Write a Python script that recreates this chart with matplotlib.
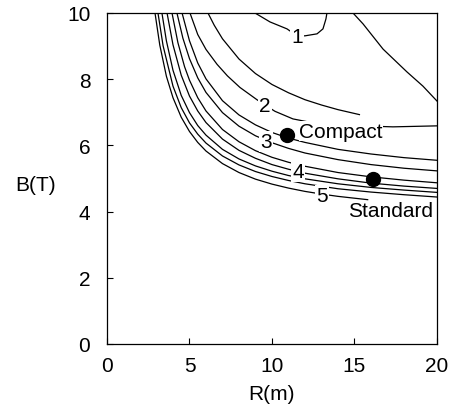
import matplotlib
matplotlib.use("Agg")
import matplotlib.pyplot as plt

plt.rcParams['font.family'] = ['Liberation Sans', 'DejaVu Sans']

# contour lines, (R in m, B in T)
c1_R = [8.97, 9.88, 10.91, 11.52, 12.0, 12.73, 13.09, 13.27, 13.33]
c1_B = [10.0, 9.73, 9.52, 9.31, 9.31, 9.37, 9.52, 9.82, 10.0]

diag_R = [14.91, 15.52, 16.73, 18.18, 19.15, 20.0]
diag_B = [10.0, 9.67, 8.91, 8.22, 7.79, 7.34]

cA_R = [6.12, 6.5, 7, 8, 9, 10, 11, 12, 13, 14, 15.3]
cA_B = [10.0, 9.63, 9.22, 8.61, 8.17, 7.84, 7.59, 7.38, 7.22, 7.08, 6.93]

c2_R = [5.03, 5.5, 6.0, 6.67, 7.3, 8.06, 9.09, 9.58, 10.18, 11.27, 12.5, 14.12, 17.33, 20.0]
c2_B = [10.0, 9.35, 8.9, 8.45, 8.1, 7.75, 7.38, 7.22, 7.03, 6.8, 6.68, 6.61, 6.56, 6.59]

cD_R = [4.55, 5, 5.5, 6, 7, 8, 9, 10, 11, 12, 14, 16, 18, 20]
cD_B = [10.0, 9.16, 8.49, 8.01, 7.35, 6.92, 6.62, 6.39, 6.22, 6.09, 5.88, 5.74, 5.63, 5.55]

c3_R = [4.24, 4.6, 5, 5.5, 6, 7, 8, 9, 10, 11, 12, 14, 16, 18, 20]
c3_B = [10.0, 9.24, 8.62, 8.04, 7.60, 6.99, 6.58, 6.29, 6.08, 5.91, 5.77, 5.57, 5.42, 5.31, 5.23]

c4_R = [3.94, 4.3, 4.7, 5, 5.5, 6, 7, 8, 9, 10, 11, 12, 14, 16, 18, 20]
c4_B = [10.0, 9.10, 8.38, 7.97, 7.44, 7.04, 6.48, 6.11, 5.84, 5.64, 5.49, 5.37, 5.18, 5.05, 4.95, 4.87]

c4b_R = [3.64, 4, 4.5, 5, 5.5, 6, 7, 8, 9, 10, 11, 12, 14, 16, 18, 20]
c4b_B = [10.0, 9.04, 8.12, 7.49, 7.04, 6.69, 6.19, 5.85, 5.61, 5.42, 5.28, 5.16, 4.99, 4.86, 4.77, 4.70]

c6_R = [3.33, 3.6, 4, 4.5, 5, 5.5, 6, 7, 8, 9, 10, 11, 12, 14, 16, 18, 20]
c6_B = [10.0, 9.16, 8.27, 7.51, 6.99, 6.60, 6.31, 5.88, 5.59, 5.38, 5.22, 5.09, 4.99, 4.84, 4.73, 4.65, 4.58]

c7_R = [3.09, 3.4, 4, 4.5, 5, 5.5, 6, 7, 8, 9, 10, 11, 12, 14, 16, 18, 20]
c7_B = [10.0, 9.01, 7.79, 7.14, 6.68, 6.34, 6.07, 5.68, 5.41, 5.21, 5.06, 4.94, 4.84, 4.69, 4.59, 4.51, 4.44]

c5_R = [2.91, 3.2, 3.6, 4, 4.5, 5, 5.5, 6, 7, 8, 9, 10, 11, 12, 13, 14, 15.8]
c5_B = [10.0, 9.03, 8.09, 7.44, 6.85, 6.42, 6.09, 5.83, 5.45, 5.18, 4.98, 4.83, 4.71, 4.61, 4.53, 4.46, 4.36]

# contour labels
lab_text = ["1", "2", "3", "4", "5"]
lab_R = [11.52, 9.58, 9.64, 11.58, 13.03]
lab_B = [9.3, 7.22, 6.12, 5.2, 4.5]

# design points
pt_names = ["Compact", "Standard"]
pt_R = [10.9, 16.12]
pt_B = [6.3, 4.98]
pt_text_R = [11.65, 14.6]
pt_text_B = [6.43, 4.02]

FS = 15

fig = plt.figure(figsize=(4.58, 4.14), dpi=100)
ax = fig.add_axes([0.2336, 0.1667, 0.7205, 0.7995])

curves = [(c1_R, c1_B), (diag_R, diag_B), (cA_R, cA_B), (c2_R, c2_B),
          (cD_R, cD_B), (c3_R, c3_B), (c4_R, c4_B), (c4b_R, c4b_B),
          (c6_R, c6_B), (c7_R, c7_B), (c5_R, c5_B)]
for r, b in curves:
    ax.plot(r, b, color='black', lw=0.9, zorder=2)

for t, r, b in zip(lab_text, lab_R, lab_B):
    ax.text(r, b, t, fontsize=FS, ha='center', va='center', zorder=3,
            bbox=dict(fc='white', ec='none', pad=0.6))

ax.plot(pt_R, pt_B, 'o', color='black', ms=10, zorder=4)
for name, r, b in zip(pt_names, pt_text_R, pt_text_B):
    ax.text(r, b, name, fontsize=FS, ha='left', va='center', zorder=3,
            bbox=dict(fc='white', ec='none', pad=0.3))

ax.set_xlim(0, 20)
ax.set_ylim(0, 10)
ax.set_xticks([0, 5, 10, 15, 20])
ax.set_yticks([0, 2, 4, 6, 8, 10])
ax.tick_params(axis='both', direction='in', length=4, width=0.8, labelsize=FS)
ax.tick_params(axis='x', pad=9)
ax.tick_params(axis='y', pad=12)
for s in ax.spines.values():
    s.set_linewidth(0.9)

ax.text(-0.215, 0.483, "B(T)", transform=ax.transAxes, fontsize=FS,
        ha='center', va='center')
ax.text(0.5, -0.151, "R(m)", transform=ax.transAxes, fontsize=FS,
        ha='center', va='center')

fig.savefig("out.png", dpi=100)
